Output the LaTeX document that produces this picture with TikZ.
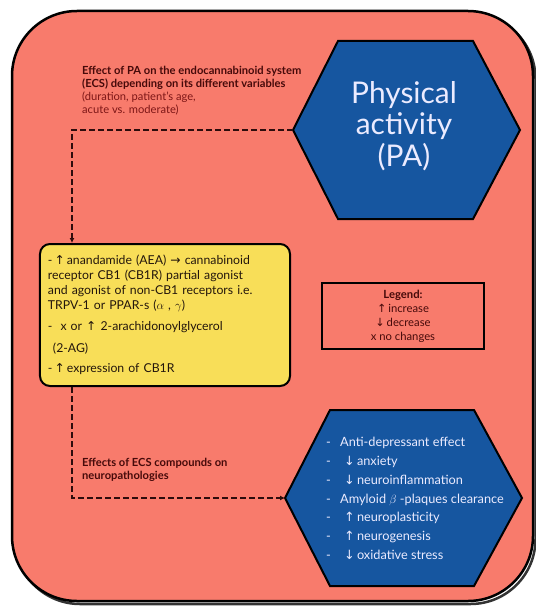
\documentclass[tikz,border=0pt]{standalone}
\usepackage{fontspec}
\setmainfont{Lato}
\newfontfamily\symf{DejaVu Sans}
\usetikzlibrary{arrows.meta}
\definecolor{bgred}{RGB}{248,123,108}
\definecolor{hexblue}{RGB}{22,86,160}
\definecolor{boxyellow}{RGB}{248,222,88}
\definecolor{lbl}{RGB}{70,10,10}
\definecolor{lblsoft}{RGB}{125,22,22}
\definecolor{ink}{RGB}{35,22,12}
\definecolor{connc}{RGB}{45,12,12}
\newcommand{\upar}{{\symf ↑}}
\newcommand{\dnar}{{\symf ↓}}
\newcommand{\rtar}{{\symf →}}
\tikzset{
  hexshape/.style={draw=black, line width=2bp, fill=hexblue, line join=miter},
  conn/.style={draw=connc, line width=2bp, dash pattern=on 6bp off 3bp, -{Latex[length=5bp,width=5bp]}},
  lbltext/.style={text=lbl, inner sep=0pt, align=left, font=\fontsize{11.2}{13}\selectfont},
  ecsbox/.style={draw=black, line width=2bp, rounded corners=10bp, fill=boxyellow,
    minimum width=250bp, minimum height=142bp, text width=234bp, inner xsep=8bp,
    align=left, text=ink, font=\fontsize{12.3}{15}\selectfont},
  legendbox/.style={draw=black, line width=2bp, minimum width=162bp, minimum height=66bp,
    align=center, text=lbl, font=\fontsize{11.3}{14}\selectfont, inner sep=0pt}
}
\begin{document}
\begin{tikzpicture}[x=1bp,y=-1bp]
\useasboundingbox (0,0) rectangle (536,612);
\fill[white] (0,0) rectangle (536,612);
% outer frame with shadow
\draw[line width=2.5bp, black!80, rounded corners=65bp] (15,14) rectangle (535.5,604);
\draw[line width=2.5bp, fill=bgred, rounded corners=65bp] (12,11) rectangle (533,601);

% top hexagon
\coordinate (paW) at (293,130);
\draw[hexshape] (paW) -- (338,41) -- (473,41) -- (520,130) -- (473,219) -- (338,219) -- cycle;
\node (pa) at (404,126) [text=white!92!blue, align=center, font=\fontsize{30}{31.5}\selectfont] {Physical\\activity\\(PA)};

% bottom hexagon
\coordinate (effW) at (285,498);
\draw[hexshape] (effW) -- (330,410) -- (474,410) -- (522,498) -- (474,586) -- (330,586) -- cycle;
\node (eff) at (326,498.5) [anchor=west, text=white!92!blue, align=left, inner sep=0pt,
  font=\fontsize{12.8}{18.8}\selectfont]
  {\makebox[14bp][l]{-}Anti-depressant effect\\
   \makebox[14bp][l]{-}\hspace{4bp}\dnar\,anxiety\\
   \makebox[14bp][l]{-}\hspace{4bp}\dnar\,neuroinflammation\\
   \makebox[14bp][l]{-}Amyloid $\beta$ -plaques clearance\\
   \makebox[14bp][l]{-}\hspace{4bp}\upar\,neuroplasticity\\
   \makebox[14bp][l]{-}\hspace{4bp}\upar\,neurogenesis\\
   \makebox[14bp][l]{-}\hspace{4bp}\dnar\,oxidative stress};

% yellow box
\node (ecs) at (165,315) [ecsbox]
  {-\,\upar\,anandamide (AEA) \rtar\ cannabinoid\\
   receptor CB1 (CB1R) partial agonist\\
   and agonist of non-CB1 receptors i.e.\\
   TRPV-1 or PPAR-s ($\alpha$ , $\gamma$)\\[6bp]
   -\hspace{8bp}x or \upar\ 2-arachidonoylglycerol\\[7bp]
   \hspace{5bp}(2-AG)\\[5bp]
   -\,\upar\,expression of CB1R};

% legend
\node (legend) at (403,316) [legendbox]
  {\textbf{Legend:}\\ \upar\,increase\\ \dnar\,decrease\\ x no changes};

% labels
\node (lab1) at (82,66) [lbltext, anchor=north west]
  {\textbf{Effect of PA on the endocannabinoid system}\\
   \textbf{(ECS) depending on its different variables}\\
   {\color{lblsoft}(duration, patient's age,}\\
   {\color{lblsoft}acute vs. moderate)}};
\node (lab2) at (82,458) [lbltext, anchor=north west]
  {\textbf{Effects of ECS compounds on}\\ \textbf{neuropathologies}};

% connectors
\coordinate (c1) at (72,130);
\coordinate (c2) at (72,498);
\draw[conn] (paW) -- (c1) -- (c1 |- ecs.north);
\draw[conn] (c2 |- ecs.south) -- (c2) -- (effW);
\end{tikzpicture}
\end{document}
